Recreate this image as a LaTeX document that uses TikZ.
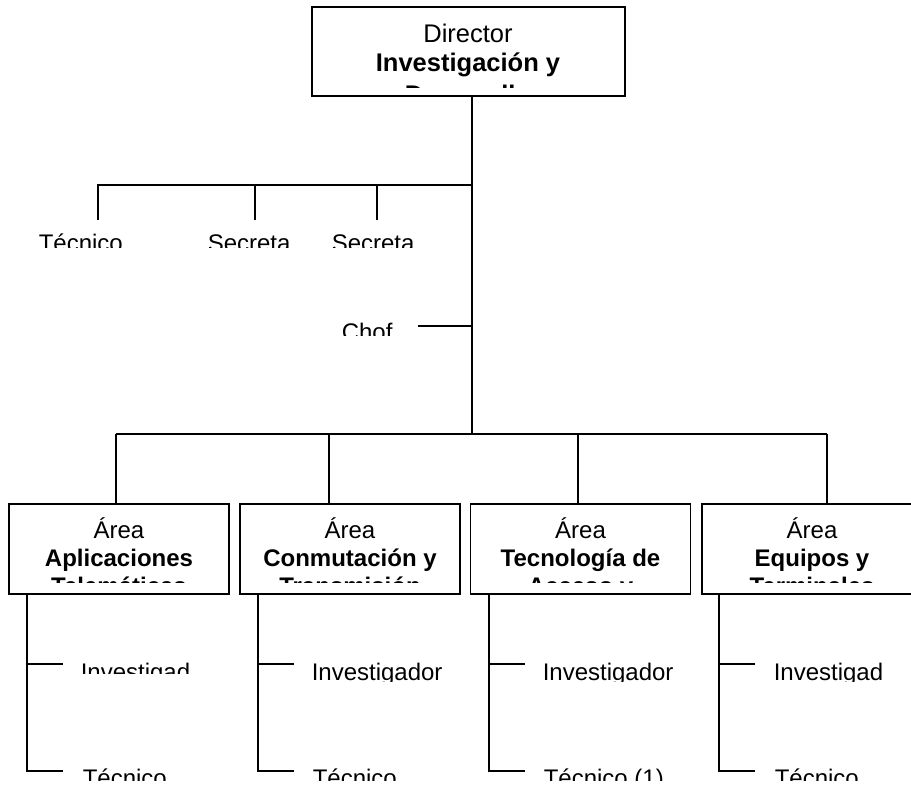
\documentclass[tikz,border=0pt]{standalone}
\usepackage{fontspec}
\setmainfont{Liberation Sans}
\usetikzlibrary{positioning}
\begin{document}
\begin{tikzpicture}[x=1pt,y=-1pt,line width=1.5pt]
\useasboundingbox (0,0) rectangle (911,787);
\tikzstyle{box}=[draw,minimum width=220pt,minimum height=90pt,inner sep=0pt];
\tikzstyle{txt}=[inner sep=0pt,font=\fontsize{24}{28}\selectfont];
\tikzstyle{btxt}=[inner sep=0pt,font=\fontsize{24}{28}\selectfont\bfseries];

% director
\node[box,minimum width=313pt,minimum height=89pt] (dir) at (468.5,51.5) {};
\begin{scope}
\clip (0,0) rectangle (911,87);
\node[txt,font=\fontsize{25.5}{30}\selectfont,anchor=base] (dir1) at (468,42) {Director};
\node[btxt,font=\fontsize{25.5}{30}\selectfont\bfseries,anchor=base] (dir2) at (468,71) {Investigación y};
\node[btxt,font=\fontsize{25.5}{30}\selectfont\bfseries,anchor=base] (dir3) at (468,103) {Desarrollo};
\end{scope}

% areas
\node[box] (a1) at (119,549) {};
\node[box] (a2) at (350,549) {};
\node[box] (a3) at (580.5,549) {};
\node[box] (a4) at (812,549) {};
\begin{scope}
\clip (0,504) rectangle (911,582);
\foreach \i/\x in {1/119,2/350,3/580.5,4/812}
  \node[txt,anchor=base] (a\i t) at (\x,538) {Área};
\node[btxt,anchor=base] (a1b) at (119,566) {Aplicaciones};
\node[btxt,anchor=base] (a1c) at (119,594) {Telemáticas};
\node[btxt,anchor=base] (a2b) at (350,566) {Conmutación y};
\node[btxt,anchor=base] (a2c) at (350,594) {Transmisión};
\node[btxt,anchor=base] (a3b) at (580.5,566) {Tecnología de};
\node[btxt,anchor=base] (a3c) at (580.5,594) {Acceso y};
\node[btxt,anchor=base] (a4b) at (812,566) {Equipos y};
\node[btxt,anchor=base] (a4c) at (812,594) {Terminales};
\end{scope}

% staff
\begin{scope}
\clip (0,200) rectangle (911,247);
\node[txt,anchor=base west] (tec) at (38,251) {Técnico};
\node[txt,anchor=base west] (sec1) at (207,251) {Secreta};
\node[txt,anchor=base west] (sec2) at (331,251) {Secreta};
\end{scope}
\begin{scope}
\clip (0,300) rectangle (911,335);
\node[txt,anchor=base west] (chof) at (341,340) {Chof};
\end{scope}

\begin{scope}
\clip (0,640) rectangle (240,673);
\node[txt,anchor=base west] (inv1) at (80,680) {Investigad};
\end{scope}
\begin{scope}
\clip (240,640) rectangle (911,681);
\node[txt,anchor=base west] (inv2) at (311,680) {Investigador};
\node[txt,anchor=base west] (inv3) at (542,680) {Investigador};
\node[txt,anchor=base west] (inv4) at (773,680) {Investigad};
\end{scope}
\begin{scope}
\clip (0,740) rectangle (911,780);
\node[txt,anchor=base west] (tec1) at (82,786) {Técnico};
\node[txt,anchor=base west] (tec2) at (312,786) {Técnico};
\node[txt,anchor=base west] (tec3) at (543,786) {Técnico (1)};
\node[txt,anchor=base west] (tec4) at (774,786) {Técnico};
\end{scope}

% connectors
\coordinate (top) at (472,185);
\coordinate (mid) at (472,326);
\coordinate (bot) at (472,434);
\draw (dir.south -| top) -- (bot);
\draw (top) -- (98,185) -- (98,220);
\draw (255,185) -- (255,220);
\draw (377,185) -- (377,220);
\draw (mid) -- (418,326);
\draw (116,434) -- (827,434);
\foreach \i/\x in {1/116,2/329,3/578,4/827} {
  \coordinate (d\i) at (\x,434);
  \draw (d\i) -- (d\i |- a\i.north);
}
\foreach \i/\x in {1/27,2/258,3/489,4/719} {
  \coordinate (s\i) at (\x,771);
  \draw (s\i |- a\i.south) -- (s\i) -- ++(36,0);
  \draw (\x,664) -- ++(36,0);
}
\end{tikzpicture}
\end{document}
